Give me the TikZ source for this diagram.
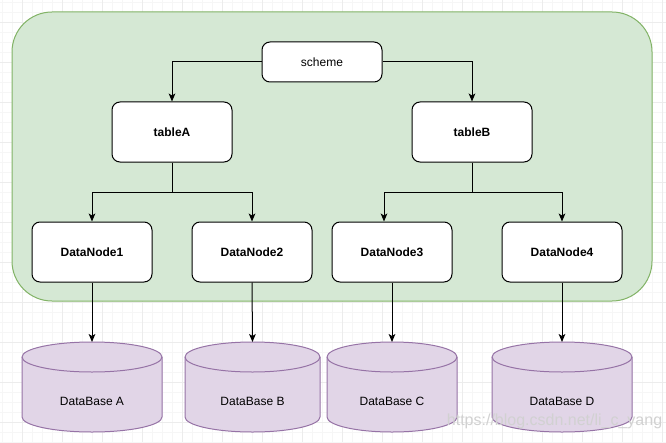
\documentclass[tikz,border=0pt]{standalone}
\usepackage{fontspec}
\setmainfont{Liberation Sans}
\usetikzlibrary{arrows.meta}
\definecolor{grpfill}{HTML}{D5E8D4}
\definecolor{grpline}{HTML}{82B366}
\definecolor{dbfill}{HTML}{E1D5E7}
\definecolor{dbline}{HTML}{9673A6}

\begin{document}
\begin{tikzpicture}[x=0.75pt,y=-0.75pt,line width=0.75pt,font=\fontsize{9}{11}\selectfont]
  \tikzstyle{box}=[draw,fill=white,rounded corners=6pt,minimum width=90pt,minimum height=45pt,inner sep=0pt,font=\fontsize{9}{11}\selectfont\bfseries]
  \tikzstyle{arr}=[-{Stealth[length=6pt,width=5pt,inset=1.5pt]}]
  \tikzstyle{gridline}=[line width=0.5pt]
  \useasboundingbox (0,0) rectangle (666,442);
  \fill[white] (0,0) rectangle (666,442);
  % background grid
  \foreach \i in {2,12,...,662} \draw[gridline,gray!7] (\i,0) -- (\i,442);
  \foreach \j in {2,12,...,442} \draw[gridline,gray!7] (0,\j) -- (666,\j);
  \foreach \i in {22,62,...,662} \draw[gridline,gray!15] (\i,0) -- (\i,442);
  \foreach \j in {22,62,...,422} \draw[gridline,gray!15] (0,\j) -- (666,\j);

  \draw[grpline,fill=grpfill,rounded corners=30pt] (12,12) rectangle (652,301);

  \node[box,minimum height=30pt,font=\fontsize{9}{11}\selectfont] (scheme) at (322,62) {scheme};
  \node[box] (tableA) at (172,132) {tableA};
  \node[box] (tableB) at (472,132) {tableB};
  \node[box] (dn1) at (92,252) {DataNode1};
  \node[box] (dn2) at (252,252) {DataNode2};
  \node[box] (dn3) at (392,252) {DataNode3};
  \node[box] (dn4) at (562,252) {DataNode4};

  % databases
  \foreach \n/\cx/\w/\lbl in {dbA/92/140/A,dbB/252.5/135/B,dbC/392/130/C,dbD/562/140/D} {
    \draw[dbline,fill=dbfill] (\cx-\w/2,357) -- (\cx-\w/2,417) arc[start angle=180,end angle=360,x radius=\w*0.375pt,y radius=11.25pt] -- (\cx+\w/2,357) arc[start angle=0,end angle=180,x radius=\w*0.375pt,y radius=11.25pt] -- cycle;
    \draw[dbline] (\cx-\w/2,357) arc[start angle=180,end angle=360,x radius=\w*0.375pt,y radius=11.25pt];
    \node (\n) at (\cx,401) {DataBase \lbl};
    \coordinate (\n-in) at (\cx,342);
  }

  \draw[arr] (scheme.west) -| (tableA.north);
  \draw[arr] (scheme.east) -| (tableB.north);
  \draw[arr] (tableA.south) -- ++(0,30) -| (dn1.north);
  \draw[arr] (tableA.south) -- ++(0,30) -| (dn2.north);
  \draw[arr] (tableB.south) -- ++(0,30) -| ([xshift=-6pt]dn3.north);
  \draw[arr] (tableB.south) -- ++(0,30) -| (dn4.north);
  \foreach \a/\b in {dn1/dbA,dn2/dbB,dn3/dbC,dn4/dbD} \draw[arr] (\a.south) -- (\b-in);

  \node[text=black!18,font=\fontsize{12}{14}\selectfont,anchor=west] (wm) at (442,421) {https://blog.csdn.net/li\_c\_yang};
\end{tikzpicture}
\end{document}
